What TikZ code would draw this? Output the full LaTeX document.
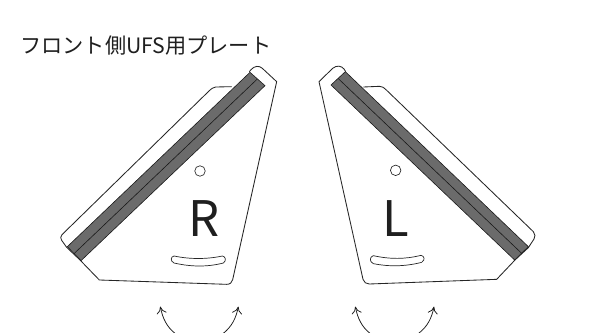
\documentclass[tikz,border=0pt]{standalone}
\usepackage{fontspec}
\usetikzlibrary{arrows.meta}
\setmainfont{Noto Sans CJK JP}
\begin{document}
\begin{tikzpicture}[x=1pt,y=-1pt,
  plate/.style={draw=black!85,line width=.85pt,fill=white,line join=round},
  band/.style={draw=black!90,line width=.6pt,fill=black!58},
  midline/.style={draw=black!90,line width=.6pt},
  hole/.style={draw=black!85,line width=.65pt,fill=white},
  swing/.style={draw=black!90,line width=.75pt,-{To[length=7pt,width=10pt]}},
  bigletter/.style={font=\fontsize{49}{49}\selectfont,text=black!88,inner sep=0pt},
  heading/.style={font=\fontsize{21.2}{24}\selectfont,text=black!88,inner sep=0pt,anchor=west}]
\useasboundingbox (0,0) rectangle (605,332);
\clip (0,0) rectangle (605,332);
\fill[white] (0,0) rectangle (605,332);
\node[heading] (title) at (20,46) {\addfontfeature{LetterSpace=0}フロント側UFS用プレート};
% R plate
\begin{scope}[shift={(50,55)},scale=1/3]
  \draw[plate] (545,95) -- (497,96) .. controls (488,97) and (484,102) .. (478,107)
    -- (36,539) .. controls (31,545) and (31,550) .. (35,556) -- (50,577)
    -- (90,615) -- (148,675) -- (530,688) .. controls (540,688) and (546,683) .. (548,674)
    -- (680,80) -- (637,40) .. controls (627,31) and (614,32) .. (603,44) -- (598,50);
  \draw[band] (600,52) -- (645,92) -- (93,617) -- (52,575) -- cycle;
  \draw[midline] (622,72) -- (72,596);
  \node[circle,hole,minimum size=10.5pt,inner sep=0pt] (rhole) at (450,348) {};
  \node[bigletter] (rletter) at (461,492) {R};
  \draw[plate,line width=.7pt] (372,603) .. controls (420,613) and (470,613) .. (517,603)
    .. controls (527,604) and (530,618) .. (520,624)
    .. controls (470,637) and (420,635) .. (372,624)
    .. controls (360,618) and (362,605) .. (372,603) -- cycle;
  \coordinate (rlfree) at (375,835);
  \coordinate (rltip) at (331,755);
  \coordinate (rrfree) at (520,835);
  \coordinate (rrtip) at (565,755);
  \draw[swing] (rlfree) .. controls (350,815) and (338,790) .. (rltip);
  \draw[swing] (rrfree) .. controls (545,815) and (558,790) .. (rrtip);
\end{scope}
% L plate
\begin{scope}[shift={(310,55)},scale=1/3]
  \draw[plate] (160,96) -- (208,94) .. controls (217,94) and (222,98) .. (228,104)
    -- (670,530) .. controls (676,537) and (676,545) .. (672,552) -- (655,578)
    -- (615,615) -- (560,673) -- (178,687) .. controls (168,687) and (162,682) .. (159,673)
    -- (27,80) -- (68,40) .. controls (80,30) and (94,32) .. (102,42) -- (107,50);
  \draw[band] (106,50) -- (63,90) -- (614,615) -- (655,575) -- cycle;
  \draw[midline] (84,70) -- (635,595);
  \node[circle,hole,minimum size=10.5pt,inner sep=0pt] (lhole) at (257,346) {};
  \node[bigletter] (lletter) at (258,492) {L};
  \draw[plate,line width=.7pt] (190,602) .. controls (240,613) and (285,613) .. (333,601)
    .. controls (344,603) and (346,615) .. (335,622)
    .. controls (285,635) and (235,635) .. (190,626)
    .. controls (178,620) and (178,606) .. (190,602) -- cycle;
  \coordinate (llfree) at (180,835);
  \coordinate (lltip) at (136,755);
  \coordinate (lrfree) at (326,835);
  \coordinate (lrtip) at (372,755);
  \draw[swing] (llfree) .. controls (155,815) and (143,790) .. (lltip);
  \draw[swing] (lrfree) .. controls (352,815) and (365,790) .. (lrtip);
\end{scope}
\end{tikzpicture}
\end{document}
